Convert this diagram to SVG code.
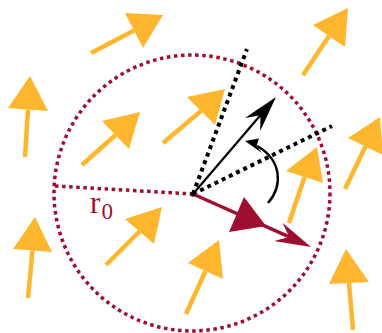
<svg xmlns="http://www.w3.org/2000/svg" width="382" height="333" viewBox="0 0 382 333">
<style>
.yl{stroke:#FDB62D;stroke-width:4.5;fill:none}
.yh{fill:#FDB62D;stroke:none}
.cdot{stroke:#9E0E2F;stroke-width:3.5;stroke-dasharray:3.5 3.6;fill:none}
.kdot{stroke:#000;stroke-width:4;stroke-dasharray:4 4;fill:none}
.cr{fill:#9E0E2F;stroke:none}
.lbl{font-family:"Liberation Serif",serif;fill:#9E0E2F}
</style>
<rect width="382" height="333" fill="#fff"/>
<g id="field">
<g id="s1"><path class="yl" d="M91,53 L134,30.5"/><polygon class="yh" points="163,15 125,13 143,48"/></g>
<g id="s2"><path class="yl" d="M25,157 L28,109.5"/><polygon class="yh" points="30,76 8,108 48,111"/></g>
<g id="s3"><path class="yl" d="M82,165 L115.5,135"/><polygon class="yh" points="140,112 102,121 129,149"/></g>
<g id="s4"><path class="yl" d="M163,143 L201,111"/><polygon class="yh" points="225,89 187,97 215,125"/></g>
<g id="s5"><path class="yl" d="M303,75 L329,36"/><polygon class="yh" points="348,8 313,25 345,47"/></g>
<g id="s6"><path class="yl" d="M345,189 L365.5,146.5"/><polygon class="yh" points="380,117 348,138 383,155"/></g>
<g id="s7"><path class="yl" d="M289,223 L304.5,177"/><polygon class="yh" points="317,147 286,171 323,183"/></g>
<g id="s8"><path class="yl" d="M106,265 L139.5,231.5"/><polygon class="yh" points="162,207 125,219 154,244"/></g>
<g id="s9"><path class="yl" d="M28,298 L32.5,250.5"/><polygon class="yh" points="35,217 13,249 52,252"/></g>
<g id="s10"><path class="yl" d="M186,314 L205.5,271"/><polygon class="yh" points="219,240 188,263 223,279"/></g>
<g id="s11"><path class="yl" d="M353,330 L349,283"/><polygon class="yh" points="346,249 329,284 369,282"/></g>
</g>
<g id="region">
<circle class="cdot" cx="192" cy="193" r="138"/>
</g>
<g id="connectors">
<path id="radius" class="cdot" d="M55,186 L193,194"/>
<path id="cone1" class="kdot" d="M193,194 L247,49"/>
<path id="cone2" class="kdot" d="M193,194 L332,126"/>
<g id="dir-arrow">
<path d="M193,194 L260.4,115.2" stroke="#000" stroke-width="2.2" fill="none"/>
<polygon fill="#000" points="276,97 245,117.9 260.4,115.2 260.2,130.9"/>
</g>
<g id="rot-arrow">
<path d="M268,203 C283,186 282,160 257,146" stroke="#000" stroke-width="2.4" fill="none"/>
<polygon fill="#000" points="245,141 259,138.5 256.5,146 262,153"/>
</g>
<g id="moment-arrow">
<path d="M193,194 L289.2,236.9" stroke="#9E0E2F" stroke-width="3.5" fill="none"/>
<polygon class="cr" points="266,226 244,197 229,232"/>
<polygon class="cr" points="311,247 282.5,222.8 289.2,236.9 274.1,241"/>
</g>
<circle cx="193" cy="194" r="2.6" fill="#000"/>
</g>
<g id="label">
<text class="lbl" x="90" y="213" font-size="31">r<tspan font-size="23" x="101.5" y="219">0</tspan></text>
</g>
</svg>
